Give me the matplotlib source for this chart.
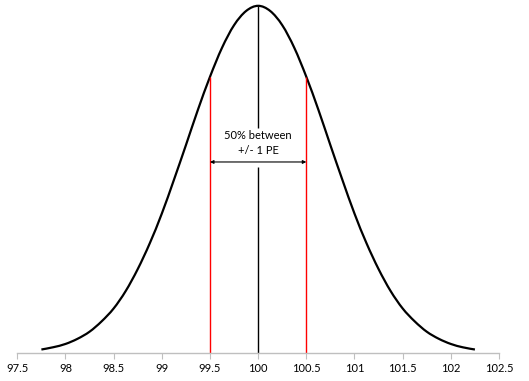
import matplotlib
matplotlib.use("Agg")
import matplotlib.pyplot as plt
from matplotlib.path import Path
from matplotlib.patches import PathPatch

# curve (relative frequency), every 0.125 from 97.75 to 102.25
xs = [97.75, 97.875, 98.0, 98.125, 98.25, 98.375, 98.5, 98.625, 98.75, 98.875,
      99.0, 99.125, 99.25, 99.375, 99.5, 99.625, 99.75, 99.875, 100.0,
      100.125, 100.25, 100.375, 100.5, 100.625, 100.75, 100.875, 101.0,
      101.125, 101.25, 101.375, 101.5, 101.625, 101.75, 101.875, 102.0,
      102.125, 102.25]
ys = [0.0054, 0.0090, 0.014, 0.022, 0.033, 0.049, 0.069, 0.096, 0.130, 0.170,
      0.216, 0.268, 0.322, 0.377, 0.428, 0.473, 0.508, 0.530, 0.538,
      0.530, 0.508, 0.473, 0.428, 0.377, 0.322, 0.268, 0.216,
      0.170, 0.130, 0.096, 0.069, 0.049, 0.033, 0.022, 0.014,
      0.0088, 0.0054]

mean = 100.0
pe_lo, pe_hi = 99.5, 100.5
pe_height = 0.428
peak = 0.538
ticks = [97.5, 98, 98.5, 99, 99.5, 100, 100.5, 101, 101.5, 102, 102.5]
tick_labels = ["97.5", "98", "98.5", "99", "99.5", "100", "100.5", "101", "101.5", "102", "102.5"]


def smooth_path(x, y):
    # Excel-style "smoothed line": bezier segments through every point
    verts = [(x[0], y[0])]
    codes = [Path.MOVETO]
    n = len(x)
    for i in range(n - 1):
        x0, y0 = (x[i - 1], y[i - 1]) if i > 0 else (x[i], y[i])
        x3, y3 = (x[i + 2], y[i + 2]) if i < n - 2 else (x[i + 1], y[i + 1])
        c1 = (x[i] + (x[i + 1] - x0) / 6, y[i] + (y[i + 1] - y0) / 6)
        c2 = (x[i + 1] - (x3 - x[i]) / 6, y[i + 1] - (y3 - y[i]) / 6)
        verts += [c1, c2, (x[i + 1], y[i + 1])]
        codes += [Path.CURVE4] * 3
    return Path(verts, codes)


plt.rcParams['font.family'] = ['Lato', 'DejaVu Sans']

fig = plt.figure(figsize=(5.29, 3.81), dpi=100)
ax = fig.add_axes([0.0327, 0.0735, 0.9106, 0.9265])

ax.add_patch(PathPatch(smooth_path(xs, ys), facecolor="none", edgecolor="black",
                       lw=1.6, capstyle="butt"))

# +/- 1 PE lines
ax.vlines([pe_lo, pe_hi], 0, pe_height, color="red", lw=1.0)
# centre line, broken round the text
ax.vlines(mean, 0.349, peak, color="black", lw=1.0)
ax.vlines(mean, 0, 0.288, color="black", lw=1.0)

ax.annotate("", xy=(pe_lo, 0.296), xytext=(pe_hi, 0.296),
            arrowprops=dict(arrowstyle="<|-|>", color="black", lw=0.8,
                            mutation_scale=5, shrinkA=0, shrinkB=0))
ax.text(mean, 0.3364, "50% between", ha="center", va="center", fontsize=8)
ax.text(mean, 0.3132, "+/- 1 PE", ha="center", va="center", fontsize=8)

ax.set_xlim(97.5, 102.5)
ax.set_ylim(0, 0.547)
ax.set_xticks(ticks)
ax.set_xticklabels(tick_labels)
ax.set_yticks([])
for s in ["top", "right", "left"]:
    ax.spines[s].set_visible(False)
ax.spines["bottom"].set_color("#BFBFBF")
ax.spines["bottom"].set_linewidth(1.0)
ax.tick_params(axis="x", length=4, color="#BFBFBF", labelsize=8, pad=3)

fig.savefig("out.png", dpi=100)
